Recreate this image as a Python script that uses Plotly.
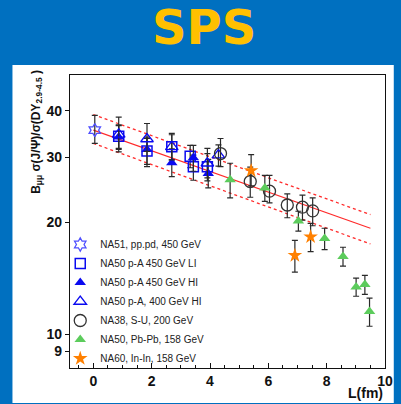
import plotly.graph_objects as go

# ---------------- data ----------------
na51_L = [0.05]
na51_R = [35.5]
na51_ep = [3.4]
na51_em = [2.8]

li_L = [0.87, 1.84, 2.69, 3.32, 3.43, 3.91]
li_R = [34.2, 31.2, 32.0, 30.2, 28.3, 28.3]
li_ep = [2.5, 2.5, 2.8, 2.1, 2.1, 2.4]
li_em = [2.5, 2.5, 2.5, 2.1, 2.3, 2.4]

hi_L = [0.87, 1.84, 2.69, 3.43, 3.94]
hi_R = [34.0, 31.5, 29.0, 29.9, 27.1]
hi_ep = [2.5, 2.5, 2.6, 2.4, 2.5]
hi_em = [2.5, 3.2, 2.4, 2.4, 2.3]

hi400_L = [0.87, 1.84, 2.69, 3.91, 4.29]
hi400_R = [34.6, 33.6, 32.0, 28.9, 30.4]
hi400_ep = [3.9, 3.4, 2.5, 2.8, 2.0]
hi400_em = [3.6, 2.5, 2.5, 2.5, 2.0]

su_L = [4.36, 5.38, 6.04, 6.65, 7.17, 7.52]
su_R = [30.7, 25.8, 24.3, 22.3, 22.0, 21.5]
su_ep = [3.0, 2.4, 2.5, 1.6, 1.7, 1.8]
su_em = [2.4, 2.4, 1.7, 1.7, 1.7, 1.9]

pb_L = [4.69, 5.88, 7.03, 7.93, 8.56, 9.01, 9.31, 9.47]
pb_R = [26.1, 24.8, 20.2, 18.1, 16.2, 13.4, 13.6, 11.5]
pb_e = [2.8, 2.0, 1.25, 1.2, 0.95, 0.75, 0.8, 1.0]

in_L = [5.41, 6.91, 7.45]
in_R = [27.6, 16.3, 18.3]
in_ep = [2.9, 1.6, 1.6]
in_em = [2.5, 1.6, 1.6]

fit_L = [0.0, 9.5]
fit_R = [35.5, 19.3]
fit_hi = [39.1, 21.0]
fit_lo = [32.7, 17.5]

legend_names = [
    "NA51, pp.pd, 450 GeV",
    "NA50 p-A 450 GeV LI",
    "NA50 p-A 450 GeV HI",
    "NA50 p-A, 400 GeV HI",
    "NA38, S-U, 200 GeV",
    "NA50, Pb-Pb, 158 GeV",
    "NA60, In-In, 158 GeV",
]

x_ticks = [0, 2, 4, 6, 8, 10]
y_ticks = [9, 10, 20, 30, 40]

# ---------------- figure ----------------
RED = "#FF2A2A"
BLUE = "#0A0AF0"
ERR = "#2a2a2a"
FONT = "Liberation Sans, Arial, sans-serif"

fig = go.Figure()

fig.add_trace(go.Scatter(x=fit_L, y=fit_R, mode="lines", showlegend=False,
                         line=dict(color=RED, width=1.1), hoverinfo="skip"))
for yy in (fit_hi, fit_lo):
    fig.add_trace(go.Scatter(x=fit_L, y=yy, mode="lines", showlegend=False,
                             line=dict(color=RED, width=1.3, dash="3px,3px"),
                             hoverinfo="skip"))


def err(ep, em):
    return dict(type="data", symmetric=False, array=ep, arrayminus=em,
                color=ERR, thickness=1.2, width=3)


fig.add_trace(go.Scatter(x=na51_L, y=na51_R, mode="markers", name=legend_names[0],
                         error_y=err(na51_ep, na51_em),
                         marker=dict(symbol="hexagram-open", size=10, color="#4f4fff",
                                     line=dict(width=1.3, color="#4f4fff"))))
fig.add_trace(go.Scatter(x=li_L, y=li_R, mode="markers", name=legend_names[1],
                         error_y=err(li_ep, li_em),
                         marker=dict(symbol="square-open", size=10, color=BLUE,
                                     line=dict(width=1.5, color=BLUE))))
fig.add_trace(go.Scatter(x=hi_L, y=hi_R, mode="markers", name=legend_names[2],
                         error_y=err(hi_ep, hi_em),
                         marker=dict(symbol="triangle-up", size=10, color=BLUE)))
fig.add_trace(go.Scatter(x=hi400_L, y=hi400_R, mode="markers", name=legend_names[3],
                         error_y=err(hi400_ep, hi400_em),
                         marker=dict(symbol="triangle-up-open", size=11, color=BLUE,
                                     line=dict(width=1.3, color=BLUE))))
fig.add_trace(go.Scatter(x=su_L, y=su_R, mode="markers", name=legend_names[4],
                         error_y=err(su_ep, su_em),
                         marker=dict(symbol="circle-open", size=12, color="#333333",
                                     line=dict(width=1.3, color="#333333"))))
fig.add_trace(go.Scatter(x=pb_L, y=pb_R, mode="markers", name=legend_names[5],
                         error_y=dict(type="data", array=pb_e, color=ERR,
                                      thickness=1.2, width=3),
                         marker=dict(symbol="triangle-up", size=10, color="#5ccc5c")))
fig.add_trace(go.Scatter(x=in_L, y=in_R, mode="markers", name=legend_names[6],
                         error_y=err(in_ep, in_em),
                         marker=dict(symbol="star", size=11, color="#ff8000")))

W, H = 401, 404
L, R, T, B = 70, 8, 75, 36
pw, ph = W - L - R, H - T - B


def px(xp):
    return (xp - L) / pw


def py(yp):
    return (H - B - yp) / ph


fig.update_layout(
    width=W, height=H,
    margin=dict(l=L, r=R, t=T, b=B),
    paper_bgcolor="#0070C0",
    plot_bgcolor="white",
    font=dict(family=FONT, color="#111"),
    showlegend=True,
    legend=dict(x=px(60), y=py(373), xanchor="left", yanchor="bottom",
                bgcolor="rgba(0,0,0,0)", font=dict(size=10, color="#222", family=FONT),
                tracegroupgap=0),
    shapes=[dict(type="rect", xref="paper", yref="paper",
                 x0=px(11), x1=px(402), y0=py(403), y1=py(65),
                 fillcolor="white", line=dict(width=0), layer="below")],
    annotations=[
        dict(text="<b>SPS</b>", xref="paper", yref="paper", x=px(207), y=py(27),
             xanchor="center", yanchor="middle", showarrow=False,
             font=dict(family="DejaVu Sans", size=48, color="#FFC000")),
        dict(text="<b>B<sub>μμ</sub> σ(J/Ψ)/σ(DY<sub>2.9-4.5</sub> )</b>",
             xref="paper", yref="paper", x=px(36), y=py(132), textangle=-90,
             xanchor="center", yanchor="middle", showarrow=False,
             font=dict(family=FONT, size=12, color="#111")),
        dict(text="<b>L(fm)</b>", xref="paper", yref="paper", x=1.0, y=py(393),
             xanchor="right", yanchor="middle", showarrow=False,
             font=dict(family=FONT, size=14, color="#111")),
    ],
)

fig.update_xaxes(range=[-0.8, 10], tickvals=x_ticks, ticktext=["<b>%d</b>" % v for v in x_ticks],
                 ticks="inside", ticklen=5, tickwidth=1, tickcolor="#111",
                 minor=dict(dtick=0.5, tick0=0, ticks="inside", ticklen=3, tickcolor="#111"),
                 showline=True, linecolor="#111", linewidth=1.2, mirror=True,
                 showgrid=False, zeroline=False,
                 tickfont=dict(family=FONT, size=14, color="#111"))
fig.update_yaxes(type="log", range=[0.9085, 1.699], tickvals=y_ticks,
                 ticktext=["<b>%d</b>" % v for v in y_ticks],
                 ticks="outside", ticklen=4, tickwidth=1, tickcolor="#111",
                 showline=True, linecolor="#111", linewidth=1.2, mirror=True,
                 showgrid=False, zeroline=False,
                 tickfont=dict(family=FONT, size=14, color="#111"))

fig.write_html("out.html")
